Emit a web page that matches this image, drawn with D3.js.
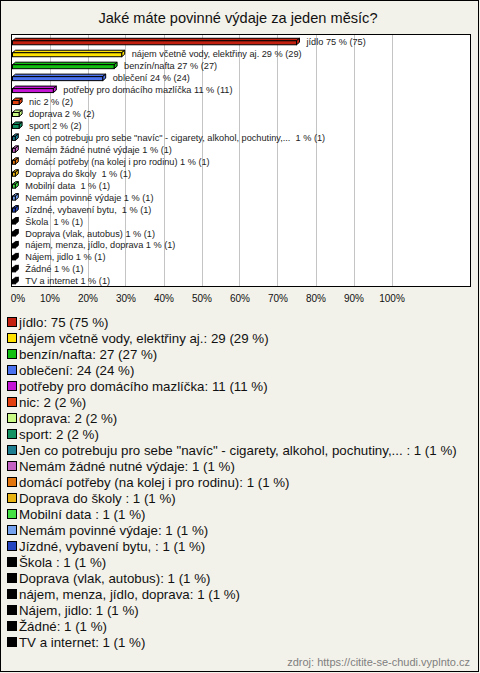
<!DOCTYPE html>
<html><head><meta charset="utf-8">
<script src="https://cdn.jsdelivr.net/npm/d3@7"></script>
<style>html,body{margin:0;padding:0;background:#f3f2ea;}svg{display:block;font-family:"Liberation Sans",Arial,sans-serif;}text{white-space:pre;}</style>
</head><body>
<svg id="c" width="480" height="673"></svg>
<script>
const categories = ["jídlo","nájem včetně vody, elektřiny aj.","benzín/nafta","oblečení","potřeby pro domácího mazlíčka","nic","doprava","sport","Jen co potrebuju pro sebe \"navíc\" - cigarety, alkohol, pochutiny,... ","Nemám žádné nutné výdaje","domácí potřeby (na kolej i pro rodinu)","Doprava do školy ","Mobilní data ","Nemám povinné výdaje","Jízdné, vybavení bytu, ","Škola ","Doprava (vlak, autobus)","nájem, menza, jídlo, doprava","Nájem, jidlo","Žádné","TV a internet"];
const counts = [75,29,27,24,11,2,2,2,1,1,1,1,1,1,1,1,1,1,1,1,1];
const percents = [75,29,27,24,11,2,2,2,1,1,1,1,1,1,1,1,1,1,1,1,1];
const colors = ["#c42010","#ffe200","#12c012","#4a72ee","#c414d4","#e2400e","#c8fa84","#129262","#1c7c90","#c462c4","#e2760e","#e8b412","#44e044","#74a2ee","#2444c0","#000","#000","#000","#000","#000","#000"];
const tickValues = [0,10,20,30,40,50,60,70,80,90,100];
const title = "Jaké máte povinné výdaje za jeden měsíc?";
const source = "zdroj: https://citite-se-chudi.vyplnto.cz";

const svg = d3.select("#c");
svg.append("rect").attr("x",0.5).attr("y",0.5).attr("width",478).attr("height",671)
  .attr("fill","#f3f2ea").attr("stroke","#000");
svg.append("text").attr("x",238).attr("y",23).attr("text-anchor","middle")
  .attr("font-size",14.6).attr("fill","#111").text(title);

const x = d3.scaleLinear().domain([0,100]).range([11.5,391.5]);
const y = d3.scaleBand().domain(d3.range(categories.length)).range([35.8,286.8]);

svg.append("rect").attr("x",11.5).attr("y",34.5).attr("width",459).attr("height",252)
  .attr("fill","#fff");
svg.append("g").selectAll("line").data(tickValues.slice(1)).join("line")
  .attr("x1",d=>Math.round(x(d))+0.5).attr("x2",d=>Math.round(x(d))+0.5)
  .attr("y1",35).attr("y2",286).attr("stroke","#c4c4c4");

const dx=3, dy=-2.5;
const g = svg.append("g");
categories.forEach((c,i)=>{
  const cy = y(i)+y.bandwidth()/2;
  const x0 = x(0)+1, x1 = x(percents[i]);
  const y0 = cy-1, y1 = cy+3;
  const col = colors[i];
  g.append("path").attr("d",`M${x0},${y0}L${x0+dx},${y0+dy}L${x1+dx},${y0+dy}L${x1},${y0}Z`)
    .attr("fill",col).attr("stroke","#000").attr("stroke-width",1);
  g.append("path").attr("d",`M${x1},${y0}L${x1+dx},${y0+dy}L${x1+dx},${y1+dy}L${x1},${y1}Z`)
    .attr("fill",col).attr("stroke","#000").attr("stroke-width",1);
  g.append("rect").attr("x",x0).attr("y",y0).attr("width",Math.max(0,x1-x0)).attr("height",y1-y0)
    .attr("fill",col).attr("stroke","#000").attr("stroke-width",1);
  g.append("text").attr("x",x1+10).attr("y",cy+3.5).attr("font-size",9.2).attr("fill","#222")
    .text(`${c} ${percents[i]} % (${counts[i]})`);
});
svg.append("rect").attr("x",11.5).attr("y",34.5).attr("width",459).attr("height",252)
  .attr("fill","none").attr("stroke","#000");

const axis = d3.axisBottom(x).tickValues(tickValues).tickFormat(d=>d+"%").tickSize(0).tickPadding(0);
const ag = svg.append("g").attr("transform","translate(0,295)").call(axis);
ag.select(".domain").remove();
ag.selectAll("text").attr("font-size",10).attr("fill","#111").attr("font-family","Liberation Sans, Arial, sans-serif");
ag.selectAll("text").filter(d=>d===0).attr("dx",6);

const lg = svg.append("g");
categories.forEach((c,i)=>{
  const cy = 322 + i*16;
  lg.append("rect").attr("x",7.5).attr("y",cy-4.5).attr("width",9).attr("height",9)
    .attr("fill",colors[i]).attr("stroke","#000");
  lg.append("text").attr("x",19).attr("y",cy+5).attr("font-size",13.3).attr("fill","#111")
    .text(`${c}: ${counts[i]} (${percents[i]} %)`);
});

svg.append("text").attr("x",470).attr("y",666).attr("text-anchor","end")
  .attr("font-size",11).attr("fill","#808080").text(source);
</script>
</body></html>
